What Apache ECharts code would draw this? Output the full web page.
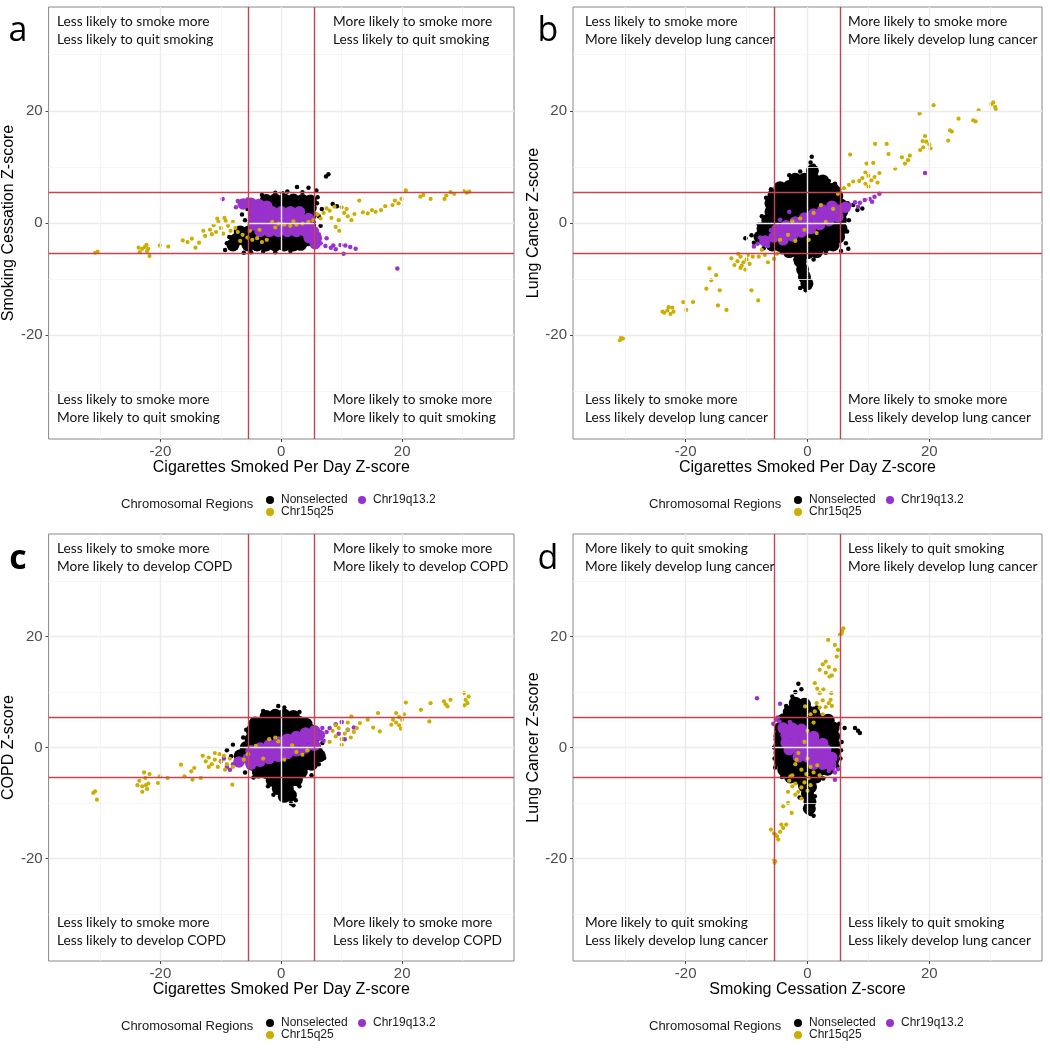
<!DOCTYPE html>
<html><head><meta charset="utf-8">
<script src="https://cdn.jsdelivr.net/npm/echarts@6.0.0/dist/echarts.min.js"></script>
<style>html,body{margin:0;padding:0;background:#fff}#main{width:1050px;height:1049px}</style>
</head><body><div id="main"></div>
<script>
// ---------- axis / tick data ----------
const majorTicks = [-20, 0, 20];
const minorTicks = [-30, -10, 10, 30];
const thresholds = [-5.45, 5.45];
const seriesNames = ['Nonselected', 'Chr15q25', 'Chr19q13.2'];
const legendTitle = 'Chromosomal Regions';
const panelLetters = ['a', 'b', 'c', 'd'];
const xTitles = ['Cigarettes Smoked Per Day Z-score', 'Cigarettes Smoked Per Day Z-score', 'Cigarettes Smoked Per Day Z-score', 'Smoking Cessation Z-score'];
const yTitles = ['Smoking Cessation Z-score', 'Lung Cancer Z-score', 'COPD Z-score', 'Lung Cancer Z-score'];
const quadA = ['Less likely to smoke more\nLess likely to quit smoking', 'More likely to smoke more\nLess likely to quit smoking', 'Less likely to smoke more\nMore likely to quit smoking', 'More likely to smoke more\nMore likely to quit smoking'];
const quadB = ['Less likely to smoke more\nMore likely develop lung cancer', 'More likely to smoke more\nMore likely develop lung cancer', 'Less likely to smoke more\nLess likely develop lung cancer', 'More likely to smoke more\nLess likely develop lung cancer'];
const quadC = ['Less likely to smoke more\nMore likely to develop COPD', 'More likely to smoke more\nMore likely to develop COPD', 'Less likely to smoke more\nLess likely to develop COPD', 'More likely to smoke more\nLess likely to develop COPD'];
const quadD = ['More likely to quit smoking\nMore likely develop lung cancer', 'Less likely to quit smoking\nMore likely develop lung cancer', 'More likely to quit smoking\nLess likely develop lung cancer', 'Less likely to quit smoking\nLess likely develop lung cancer'];

// ---------- panel a ----------
const aNonCore = [[-2.5,4.0],[-1,4.1],[0.5,4.1],[2,4.1],[3.5,4.0],[4.8,3.9],
[-4.2,2.7],[-2.7,2.7],[-1.2,2.7],[0.3,2.7],[1.8,2.7],[3.3,2.7],[4.8,2.7],
[-4.4,1.3],[-2.9,1.3],[-1.4,1.3],[0.1,1.3],[1.6,1.3],[3.1,1.3],[4.7,1.3],
[-4.5,-0.2],[-3,-0.2],[-1.5,-0.2],[0,-0.2],[1.5,-0.2],[3,-0.2],[4.7,-0.2],
[-6.8,-1.6],[-5.4,-1.6],[-4,-1.7],[-2.5,-1.7],[-1,-1.7],[0.5,-1.7],[2,-1.7],[3.5,-1.7],[4.8,-1.7],
[-7.5,-3.0],[-6,-3.0],[-4.5,-3.0],[-3,-3.0],[-1.5,-3.0],[0,-3.0],[1.5,-3.0],[3,-3.0],[4.4,-3.0],
[-8,-3.9],[-5.5,-3.9],[-4,-3.9],[-2.5,-3.9],[-1,-3.9],[0.5,-3.9],[2,-3.9],[3.2,-3.8]];
const aNonPts = [[2.6,6.4],[4.5,6.3],[7.4,8.3],[7.8,8.7],[5.8,5.8],[3.5,5.5],[1,5.6],[-1,5.4],[-3.2,5.0],[0.2,5.3],[8.5,3.4],[9.2,3.0],[6.7,2.5],[6.2,1.2],[6.5,-0.5],[-9.3,-4.8],[-9.0,-3.6],[-8.6,-2.5],[-6.2,-5.3],[-5,-5.2],[-3,-5.1],[-1,-5.2],[1.5,-5.0],[5.6,-4.3],[6,4.6],[-6.5,1.5],[-6,0.5],[-5.6,2.5],[5.9,3.5],[5.9,-2.2]];
const aC19Core = [[-6.3,3.4],[-5,3.5],[-3.7,3.3],[-2.4,3],
[-4.5,2],[-3,2],[-1.5,2],[0,2],[1.5,2],[3,2],
[-4.5,0.8],[-3,0.8],[-1.5,0.8],[0,0.8],[1.5,0.8],[3,0.8],[4.5,0.8],
[-4.5,-0.4],[-3,-0.4],[-1.5,-0.4],[0,-0.4],[1.5,-0.4],[3,-0.4],[4.5,-0.4],
[-3.5,-1.5],[-2,-1.5],[-0.5,-1.5],[1,-1.5],[2.5,-1.5],[4,-1.5],[5.3,-1.5],
[4.6,-2.6],[5.8,-2.7],[5.6,-3.7]];
const aC19Pts = [[-9.7,4.3],[-7.2,3.9],[-6.8,3.6],[-5.6,4.2],[6.5,-3.6],[7.3,-4.1],[8.2,-4.4],[9,-4.7],[9.8,-3.9],[10.6,-4.0],[11.4,-4.3],[12.3,-4.6],[10.3,-5.5],[7.5,-2.7],[19.2,-8.1],[6.2,-2.0],[8.6,-4],[-7.5,2.8],[5.8,1.5]];
const aC15Pts = [[-30.8,-5.3],[-30.4,-5.1],[-23.4,-5.2],[-23.0,-4.6],[-22.6,-4.3],[-22.2,-5.0],[-21.8,-5.9],[-22.3,-3.9],[-23.6,-4.4],[-22.0,-4.6],[-20.1,-4.0],[-18.7,-4.2],[-16.3,-3.1],[-15.5,-3.4],[-14.8,-2.8],[-14.2,-4.4],[-13.6,-3.5],[-12.6,-2.3],[-12.9,-1.4],
[-11.8,-1.2],[-11.2,-0.4],[-10.8,-1.6],[-10.4,0.2],[-10.0,-0.9],[-9.6,-1.9],[-9.2,0.4],[-8.8,-0.5],[-8.4,-1.4],[-8.0,0.2],[-7.6,-0.9],[-10.6,0.8],[-9.4,0.9],[-11.5,-2.0],[-7.2,-1.6],
[-6.4,-2.1],[-5.6,-2.6],[-4.8,-3.0],[-4.0,-2.7],[-3.2,-3.4],[-2.4,-3.0],[-5.2,-1.4],[-6.8,-3.2],[-3.6,-1.2],
[-1.5,0.2],[-0.5,-0.1],[0.5,-0.3],[1.5,-0.5],[2.5,-0.3],[3.5,-0.1],[4.5,0.2],[5.3,0.5],[-1.0,-0.8],[2.0,0.3],
[6,1.5],[6.5,0.8],[7,1.8],[7.5,2.6],[8,2.2],[8.3,0.9],[9,-0.7],[9.6,-1.4],[10,2.8],[10.4,1.8],[11,1.2],[11.6,0.5],[12.1,1.6],[12.9,4],[13.5,1.9],[14.3,1.7],[15,2.3],[15.6,2.0],[16.5,2.3],[17.2,3.0],[18.4,3.2],[18.8,4.0],[19.4,3.5],[19.9,4.3],[20.6,5.8],[23.0,4.7],[23.5,5.0],[24.7,4.3],[27.0,4.3],[27.3,4.9],[28.0,5.5],[28.6,5.2],[30.2,5.7],[30.7,5.4],[31.1,5.6],[9.5,0.5],[8.8,2.9],[10.8,2.5]];

// ---------- panel b ----------
const bNonCore = [[-2,7.8],[-0.5,7.8],[1,7.8],[2.5,7.5],
[-4.5,6.3],[-3,6.5],[-1.5,6.5],[0,6.5],[1.5,6.5],[3,6.3],[4.2,6],
[-5.5,5],[-4,5],[-2.5,5],[-1,5],[0.5,5],[2,5],[3.5,5],[4.8,4.8],
[-6,3.5],[-4.5,3.5],[-3,3.5],[-1.5,3.5],[0,3.5],[1.5,3.5],[3,3.5],[4.5,3.5],[5.5,3.2],
[-6,2],[-4.5,2],[-3,2],[-1.5,2],[0,2],[1.5,2],[3,2],[4.5,2],[5.6,2],
[-6.5,0.5],[-5,0.5],[-3.5,0.5],[-2,0.5],[-0.5,0.5],[1,0.5],[2.5,0.5],[4,0.5],[5.4,0.5],
[-7.3,-1],[-6,-1],[-4.5,-1],[-3,-1],[-1.5,-1],[0,-1],[1.5,-1],[3,-1],[4.5,-1],[5.5,-1],
[-7.8,-2.5],[-6.5,-2.5],[-5,-2.5],[-3.5,-2.5],[-2,-2.5],[-0.5,-2.5],[1,-2.5],[2.5,-2.5],[4,-2.5],[5.1,-2.5],
[-5.8,-3.9],[-4.5,-4],[-3,-4],[-1.5,-4],[0,-4],[1.5,-4],[3,-4],[4.2,-3.9],
[-3,-5.1],[-1.5,-5.3],[0,-5.3],[1.5,-5.1],
[-1.2,-6.8],[-0.8,-8.3],[-0.5,-9.6],[-0.1,-10.8],[0.8,9.3]];
const bNonPts = [[0.7,11.8],[0.5,10.8],[1.0,10.2],[-3,8.5],[-1.2,9.2],[3.5,7.5],[4.5,7],[-6,6],[-6.8,4.5],[-10.2,-2.7],[-9.2,-2.2],[-8.8,-3.5],[-7.2,-4.5],[6.6,3.5],[7.5,3.2],[8.2,2.3],[9,2.6],[6.8,0.5],[6.5,-1.5],[6.3,-3.6],[6.7,-4.6],[-1.2,-11.6],[0.3,-11.5],[-0.3,-12],[-2,-6.5],[1,-6.5],[5.5,-5],[-7.5,1.2],[-8,-0.3],[-4.2,-5.2],[3,-5.3],[5.2,6]];
const bC19Core = [[-7,-3.2],[-5.5,-2.5],[-4,-1.8],[-2.5,-1.1],[-1,-0.4],[0.5,0.2],[2,0.9],[3.5,1.6],[5,2.3],[6.2,2.8],
[-5,-1.1],[-3.5,-0.5],[-2,0.2],[-0.5,0.9],[1,1.6],[2.5,2.3],[4,3],
[-4,-3],[-2.5,-2.3],[-1,-1.6],[0.5,-1],[2,-0.3],[3.5,0.4],[5,1.1]];
const bC19Pts = [[7,3.2],[7.8,3.7],[8.6,3.6],[9.4,4.1],[10.2,4.3],[11,4.7],[11.8,5.2],[8.3,2.9],[10.6,3.8],[19.3,8.9],[-8.2,-3.7],[-8.8,-4.2],[-6.5,-4.1],[-7.8,-2.6],[-3,2],[-4.5,0.6],[-6,-1.3]];
const bC15Pts = [[-30.8,-20.9],[-30.6,-20.3],[-30.3,-20.6],
[-23.5,-16],[-23,-15.6],[-22.5,-16.2],[-22.2,-15.1],[-22.8,-15.0],[-23.8,-15.8],[-22,-15.8],
[-20.4,-14.1],[-19.9,-15.5],[-18.8,-14.1],
[-16.6,-11.7],[-15.8,-10.2],[-16.1,-8.1],[-15,-9.3],[-14.7,-14.7],[-13.3,-15.5],[-14.4,-12],
[-12,-7.5],[-11.5,-6.8],[-11,-8],[-10.5,-7],[-10,-6.5],[-9.5,-7.3],[-11,-6],[-10.2,-8.3],[-12.5,-6.3],[-9,-6],[-11.4,-5.5],[-10.8,-7.6],[-9.8,-5.7],
[-9.2,-12],[-8.1,-13.8],
[-8,-6],[-7,-5.7],[-6.5,-7],[-5.5,-6.4],[-5,-5.5],[-7.5,-4.8],
[-3.2,-2.1],[-2,-3.2],[-0.5,-1.2],[1,1.8],[2.2,3.2],[-1.2,0.8],[3,0.2],[-4.5,-3],[0.2,-3],[4.2,2.5],[-2.5,0.3],[1.5,-1.8],
[5,5.2],[6,6.2],[6.8,6.8],[7.5,7.4],[8.5,7.5],[9,8],[9.5,7],[10,8.4],[10.5,7.6],[11,8.2],[11.5,7.2],[9.5,9],[10,6.5],[11.8,8.9],
[7,12.2],[9.7,10.6],[10.8,10.7],[11.1,14.1],[13,14.1],[13.3,12.3],[14.4,9.7],[15.5,11.7],[16,10.6],[16.5,11.2],[16.8,12],
[18.5,13],[19,13.5],[19.5,14.5],[20,14],[19.3,15.5],[20.2,13.3],[18.9,14.6],
[18.4,19.5],[20.7,21],[23.1,14.7],[23.4,16.5],[23.7,16.3],[24.8,18.6],[27.2,18.3],[27.6,18.1],[28.1,20.1],[30.2,21.2],[30.8,20.7],[30.5,21.5],[30.9,20.3]];

// ---------- panel c ----------
const cNonCore = [[-2.5,5.6],[-1,5.8],[0.5,5.8],[2,5.6],
[-4.3,4.4],[-3,4.5],[-1.5,4.5],[0,4.5],[1.5,4.5],[3,4.5],[4.1,4.2],
[-4.8,3],[-3.5,3],[-2,3],[-0.5,3],[1,3],[2.5,3],[4,3],[4.9,3],
[-5,1.5],[-3.5,1.5],[-2,1.5],[-0.5,1.5],[1,1.5],[2.5,1.5],[4,1.5],[5.2,1.5],
[-5.8,0],[-4.5,0],[-3,0],[-1.5,0],[0,0],[1.5,0],[3,0],[4.5,0],[5.5,0],
[-6.8,-1.5],[-5.5,-1.5],[-4,-1.5],[-2.5,-1.5],[-1,-1.5],[0.5,-1.5],[2,-1.5],[3.5,-1.5],[5,-1.5],[6.3,-1.5],
[-4.8,-3],[-3.5,-3],[-2,-3],[-0.5,-3],[1,-3],[2.5,-3],[4,-3],[5,-3],
[-3.8,-4.4],[-2.5,-4.5],[-1,-4.5],[0.5,-4.5],[2,-4.5],[3.3,-4.4],
[-1.5,-5.9],[0,-6],[1.5,-6],[2.5,-5.8],
[-0.5,-7.4],[1,-7.4],[0.5,-8.8],[1.5,-8.6]];
const cNonPts = [[-0.5,7.5],[0.5,7.2],[-3,6.6],[3,6.4],[-8,0.5],[-9,-0.5],[-7.5,-2.7],[-8.3,-1.6],[6.5,-0.5],[7.1,-1.9],[6.2,-3],[6.8,0.8],[1.6,-10.1],[2,-10.4],[-2.2,-7],[3,-7],[-1.3,-8.5],[2.4,-9.5],[-6,-4.5],[5,-5],[-6.3,1.8],[-5.8,3.2],[5.8,2.5],[-4.6,-5.4]];
const cC19Core = [[-7,-2.6],[-5.5,-2],[-4,-1.5],[-2.5,-1],[-1,-0.4],[0.5,0.1],[2,0.7],[3.5,1.2],[5,1.7],[6.3,2.2],
[-5,-0.6],[-3.5,-0.1],[-2,0.5],[-0.5,1],[1,1.5],[2.5,2],[4,2.6],[5.5,3],
[-5,-3],[-3.5,-2.5],[-2,-2],[-0.5,-1.6],[1,-1.1],[2.5,-0.6],[4,-0.1],[5.5,0.4]];
const cC19Pts = [[7.5,2.8],[8,3.5],[9,4.2],[10,4.6],[11,3.2],[12,3.6],[9.5,2.5],[10.5,1.5],[-8,-3],[-9,-3.5],[-10,-2.5],[-8.5,-4],[-9.5,-2],[7,1.2],[6.8,3.5]];
const cC15Pts = [[-31.1,-8.2],[-30.8,-7.9],[-30.5,-9.4],
[-23.5,-6],[-23,-7],[-22.5,-5.5],[-22,-6.5],[-23,-8],[-22.2,-7.5],[-21.8,-4.8],[-23.8,-6.8],[-22.7,-4.5],[-22.4,-6.8],
[-20.1,-5.2],[-20.4,-6.4],[-18.8,-5.5],[-16,-5.2],[-14.9,-4.3],[-14.7,-5.8],[-13.3,-5.5],[-16.6,-3.1],[-14.4,-3.7],[-8.1,-6.7],
[-13,-1.5],[-12.5,-2.5],[-12,-1.8],[-11.5,-3],[-11,-2.2],[-10.5,-3.5],[-10,-2.5],[-9.5,-1.5],[-9,-3],[-8.5,-2],[-8,-3.5],[-11,-1],[-12,-3.5],[-10.2,-1.2],[-9.3,-4],
[-2,1.5],[-1,1.8],[-0.5,1.1],[2.5,-0.8],[3.5,-1.3],[4.3,-0.5],[-4.2,0.3],[-5.5,-1.2],[0.5,-2.2],[-3,-2],[1.8,0.4],[-6.2,-2.2],
[8.5,3],[9,2],[9.5,3.5],[10,1.5],[10.5,2.5],[11,3.2],[11.5,1.8],[12,2.8],[10,0.5],[9,4],[11,4.5],[12.5,3.5],[8,1],
[11.6,5.6],[13,4.4],[14.3,5],[16,6.2],[16.3,2.9],[15.2,3.6],[18.2,4.1],
[18.5,5],[19,4.5],[19.5,5.5],[20,5],[19.5,4],[20.3,6],[19,6.2],[19.8,3.4],
[20.6,8.1],[23.1,6.8],[24.5,4.7],[24.7,8],[26.9,8.3],[27.5,7.4],[28,8.6],[27.2,7.8],[30.2,9.8],[30.8,8],[30.5,8.6],[31,9.2],[30.3,7.6]];

// ---------- panel d ----------
const dNonCore = [[-2,8],[-0.5,7.8],
[-3,6.4],[-1.5,6.5],[0,6.5],[1,6.2],
[-3.9,5],[-2.5,5],[-1,5],[0.5,5],[2,5],[3.4,4.9],
[-4.4,3.5],[-3,3.5],[-1.5,3.5],[0,3.5],[1.5,3.5],[3,3.5],[4.2,3.5],
[-4.5,2],[-3,2],[-1.5,2],[0,2],[1.5,2],[3,2],[4.3,2],
[-4.5,0.5],[-3,0.5],[-1.5,0.5],[0,0.5],[1.5,0.5],[3,0.5],[4.3,0.5],
[-4.5,-1],[-3,-1],[-1.5,-1],[0,-1],[1.5,-1],[3,-1],[4.3,-1],
[-4.4,-2.5],[-3,-2.5],[-1.5,-2.5],[0,-2.5],[1.5,-2.5],[3,-2.5],[4.1,-2.5],
[-3.9,-4],[-2.5,-4],[-1,-4],[0.5,-4],[2,-4],[3.3,-3.9],
[-2.8,-5.3],[-1.5,-5.5],[0,-5.5],[1.4,-5.3],
[-0.5,-6.9],[0.5,-7.1],[0,-8.4],[0.4,-9.8],[0.3,-11]];
const dNonPts = [[-2,10],[-1.5,11.5],[-1,10.5],[-2.5,9.2],[-3.5,7.5],[1.5,7.2],[6.1,3.5],[7.8,3.5],[8.3,3],[8.6,2.6],[5.6,1],[5.4,-2],[0.5,-12],[1,-12.3],[-5.4,-2],[-5.5,0],[5.2,4.3],[-5.2,1.5],[5.5,-0.5],[-1.3,-9],[1.2,-8.8],[-5.3,-3.6],[4.9,-3.4],[2.6,-5.6],[-4.2,-5.3]];
const dC19Core = [[-4,3.5],[-2.5,3.5],[-1,3.3],
[-3.5,2.2],[-2,2.2],[-0.5,2.2],[1,2],
[-3.5,0.9],[-2,0.9],[-0.5,0.9],[1,0.9],[2.5,0.7],
[-3,-0.4],[-1.5,-0.4],[0,-0.4],[1.5,-0.4],[3,-0.4],
[-1.5,-1.7],[0,-1.7],[1.5,-1.7],[3,-1.7],[4,-1.8],
[1,-3],[2.5,-3],[3.8,-3.1]];
const dC19Pts = [[-8.3,8.9],[-4.5,7.9],[-5.2,5],[-5.6,4.3],[-4.6,4.7],[-4.9,5.4],[4.5,-4.5],[5,-3.9],[4.5,-5.8],[3.5,-4.2],[4.2,-3.8],[-2.9,4.6]];
const dC15Pts = [[-5.4,-20.8],[-5.5,-20.2],[-5.3,-20.5],
[-5.5,-15.5],[-5,-16],[-4.5,-15.2],[-4.8,-16.6],[-6,-14.8],[-4,-14.5],[-5.2,-15.8],
[-4.3,-13.9],[-3.5,-13.9],[-2.6,-11.8],[-3.2,-10],[-4,-10.6],
[-3,-6],[-2.5,-7],[-2,-6.5],[-1.5,-8],[-1,-7.2],[-0.5,-6.3],[0,-7.8],[0.5,-6.8],[-2,-8.5],[-3.2,-8],[-1,-9.2],[-2.8,-5.2],[0.2,-5.5],
[-2,-3],[-1,-4],[0,-2],[0.5,-3.5],[1,-4.5],[-1.5,-1],[-0.5,1],[0,3],[1,4.5],[-2.5,-5],[2,-5],[-1.8,-2.2],[-0.2,-4.8],[1.6,-3.2],
[1.5,8],[2.5,8.5],[3.5,8],[4,7.5],[2,7.2],[3,7.3],[1.2,6.5],[3.8,8.6],[-0.4,7.4],[0.5,6],[2.5,6],
[1.2,11.6],[1.6,10.6],[2,9.8],[2.6,10.5],[3.9,9.8],
[2,14],[2.5,15],[3,13.5],[3.5,14.5],[4,13],[4.5,14],[3,15.5],[3.6,12.8],
[4.8,16.4],[3.4,19.4],[4.5,18.5],[5,17.6],[5.6,20.5],[5.9,21.5],[5.3,20.3],[5.7,21]];

// ---------- layout ----------
const FONT = 'Liberation Sans';
const QFONT = 'Lato';
const COLORS = { non: '#000000', c15: '#CDAD00', c19: '#9932CC' };
const RED = '#c8434f';
const panels = [
  { grid: {left: 45, top: 7, width: 469, height: 432}, non: aNonCore, nonPts: aNonPts, c19: aC19Core, c19Pts: aC19Pts, c15: aC15Pts, quad: quadA, qx: [57, 333], qy: [13, 391], legTop: 494, legTitleY: 506, letterPos: [18, 31] },
  { grid: {left: 573, top: 7, width: 469, height: 432}, non: bNonCore, nonPts: bNonPts, c19: bC19Core, c19Pts: bC19Pts, c15: bC15Pts, quad: quadB, qx: [585, 848], qy: [13, 391], legTop: 494, legTitleY: 506, letterPos: [548, 31] },
  { grid: {left: 45, top: 534, width: 469, height: 427}, non: cNonCore, nonPts: cNonPts, c19: cC19Core, c19Pts: cC19Pts, c15: cC15Pts, quad: quadC, qx: [57, 333], qy: [540, 914], legTop: 1017, legTitleY: 1028, letterPos: [18, 559] },
  { grid: {left: 573, top: 534, width: 469, height: 427}, non: dNonCore, nonPts: dNonPts, c19: dC19Core, c19Pts: dC19Pts, c15: dC15Pts, quad: quadD, qx: [585, 848], qy: [540, 914], legTop: 1017, legTitleY: 1028, letterPos: [548, 559] }
];

const grids = [], xAxes = [], yAxes = [], series = [], legends = [], graphics = [];
const ptStyle = c => ({ color: c, opacity: 1, borderWidth: 0 });

panels.forEach((p, i) => {
  grids.push(Object.assign({ show: true, borderColor: '#888888', borderWidth: 1, backgroundColor: '#ffffff', containLabel: false }, p.grid));
  const axisCommon = {
    gridIndex: i, type: 'value', min: -38.5, max: 38.5,
    splitLine: { show: false },
    axisLine: { show: false, onZero: false },
    axisTick: { show: true, customValues: majorTicks, length: 3, lineStyle: { color: '#444', width: 1 } },
    nameLocation: 'middle',
    nameTextStyle: { fontFamily: FONT, fontSize: 16, color: '#000' }
  };
  xAxes.push(Object.assign({}, axisCommon, {
    name: xTitles[i], nameGap: 21,
    axisLabel: { customValues: majorTicks, color: '#4d4d4d', fontSize: 15, fontFamily: FONT, margin: 5 }
  }));
  yAxes.push(Object.assign({}, axisCommon, {
    name: yTitles[i], nameGap: 29,
    axisLabel: { customValues: majorTicks, color: '#4d4d4d', fontSize: 15, fontFamily: FONT, margin: 6 }
  }));

  const gl = [];
  majorTicks.forEach(v => { gl.push({ xAxis: v, lineStyle: { color: '#ebebeb', width: 1.4, type: 'solid' } }); gl.push({ yAxis: v, lineStyle: { color: '#ebebeb', width: 1.4, type: 'solid' } }); });
  minorTicks.forEach(v => { gl.push({ xAxis: v, lineStyle: { color: '#f2f2f2', width: 0.8, type: 'solid' } }); gl.push({ yAxis: v, lineStyle: { color: '#f2f2f2', width: 0.8, type: 'solid' } }); });
  series.push({ type: 'scatter', xAxisIndex: i, yAxisIndex: i, data: [], z: 1, silent: true,
    markLine: { silent: true, symbol: ['none', 'none'], label: { show: false }, animation: false, data: gl } });

  const common = { type: 'scatter', xAxisIndex: i, yAxisIndex: i, symbol: 'circle', silent: true, emphasis: { disabled: true }, animation: false };
  series.push(Object.assign({}, common, { name: seriesNames[0], data: p.non, symbolSize: 13, itemStyle: ptStyle(COLORS.non), z: 2 }));
  series.push(Object.assign({}, common, { name: seriesNames[0], data: p.nonPts, symbolSize: 4.5, itemStyle: ptStyle(COLORS.non), z: 2 }));
  series.push(Object.assign({}, common, { name: seriesNames[2], data: p.c19, symbolSize: 11.5, itemStyle: ptStyle(COLORS.c19), z: 3 }));
  series.push(Object.assign({}, common, { name: seriesNames[2], data: p.c19Pts, symbolSize: 4.5, itemStyle: ptStyle(COLORS.c19), z: 3 }));
  series.push(Object.assign({}, common, { name: seriesNames[1], data: p.c15, symbolSize: 4.2, itemStyle: ptStyle(COLORS.c15), z: 4 }));

  const rl = [];
  thresholds.forEach(v => {
    rl.push({ xAxis: v, lineStyle: { color: RED, width: 1.4, type: 'solid', opacity: 1 } });
    rl.push({ yAxis: v, lineStyle: { color: RED, width: 1.4, type: 'solid', opacity: 1 } });
  });
  series.push({ type: 'scatter', xAxisIndex: i, yAxisIndex: i, data: [], z: 5, silent: true, itemStyle: { color: RED },
    markLine: { silent: true, symbol: ['none', 'none'], label: { show: false }, animation: false,
      lineStyle: { color: RED, width: 1.4, type: 'solid' }, data: rl } });

  const legText = { fontFamily: FONT, fontSize: 12, color: '#1a1a1a', lineHeight: 12, padding: [0, 0, 0, 2] };
  legends.push({ orient: 'vertical', left: p.grid.left + 221, top: p.legTop, itemWidth: 8, itemHeight: 8, itemGap: 0, padding: 0, icon: 'circle', selectedMode: false, data: [seriesNames[0], seriesNames[1]], textStyle: legText });
  legends.push({ orient: 'vertical', left: p.grid.left + 313, top: p.legTop, itemWidth: 8, itemHeight: 8, itemGap: 0, padding: 0, icon: 'circle', selectedMode: false, data: [seriesNames[2]], textStyle: legText });

  graphics.push({ type: 'text', left: p.grid.left + 76, top: p.legTitleY - 8, style: { text: legendTitle, font: '13px "' + FONT + '"', fill: '#1a1a1a' } });
  graphics.push({ type: 'text', x: p.letterPos[0], y: p.letterPos[1], style: { text: panelLetters[i], font: (i === 2 ? 'bold ' : '') + '34px "Open Sans"', fill: '#000', align: 'center', verticalAlign: 'middle' } });
  const qpos = [[p.qx[0], p.qy[0]], [p.qx[1], p.qy[0]], [p.qx[0], p.qy[1]], [p.qx[1], p.qy[1]]];
  p.quad.forEach((t, k) => {
    graphics.push({ type: 'text', x: qpos[k][0], y: qpos[k][1], z: 10, style: { text: t, font: '13.7px "' + QFONT + '"', fill: '#111', lineHeight: 17.7, verticalAlign: 'top', align: 'left' } });
  });
});

const chart = echarts.init(document.getElementById('main'), null, { renderer: 'canvas' });
chart.setOption({
  animation: false,
  backgroundColor: '#ffffff',
  grid: grids, xAxis: xAxes, yAxis: yAxes, series: series, legend: legends,
  graphic: graphics
});
</script>
</body></html>
